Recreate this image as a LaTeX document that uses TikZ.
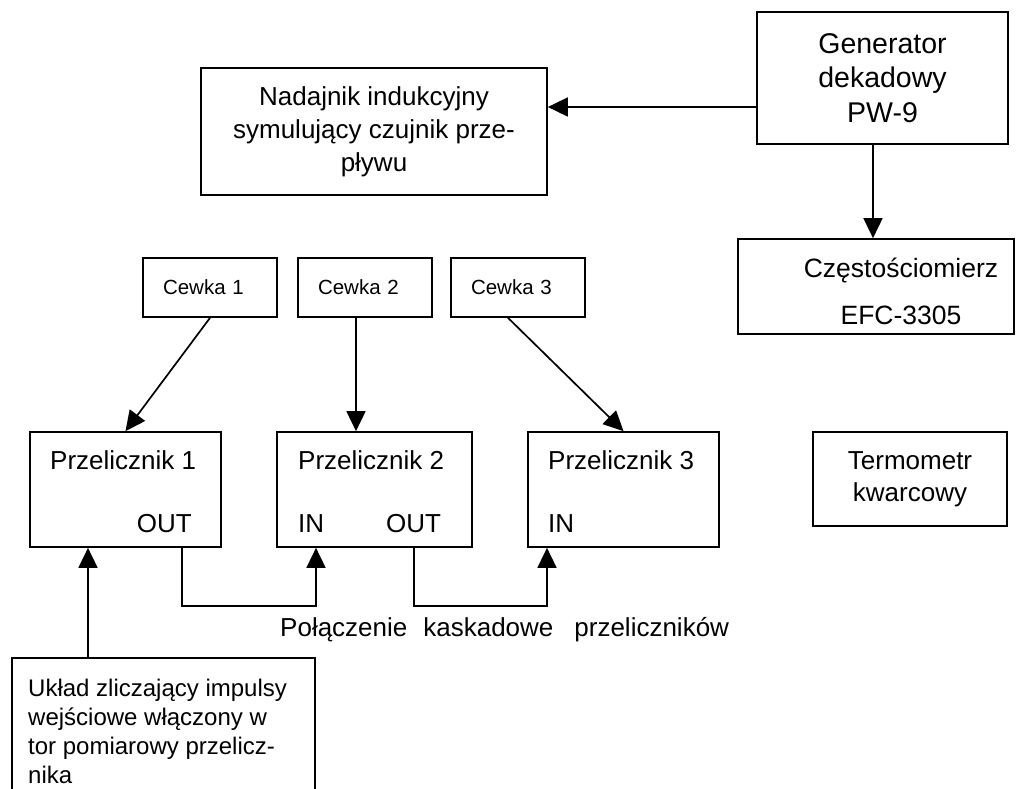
\documentclass[tikz,border=0pt]{standalone}
\usepackage{fontspec}
\setmainfont{Liberation Sans}
\usetikzlibrary{arrows.meta}

\tikzset{
  box/.style={draw,line width=1.7pt,inner sep=0pt,align=center},
  coil/.style={box,minimum width=134pt,minimum height=59pt,text width=94pt,
    align=left,inner xsep=20pt,font=\fontsize{20.5}{24}\selectfont},
  cnt/.style={box,minimum width=#1,minimum height=115pt},
  lbl/.style={inner sep=0pt},
  arr/.style={line width=1.7pt,-{Triangle[length=20pt,width=19pt]}},
}

\begin{document}
\begin{tikzpicture}[x=1pt,y=-1pt,font=\fontsize{26}{33}\selectfont]
  \clip (0,0) rectangle (1016,788);

  %% generator and its outputs
  \node[box,minimum width=251pt,minimum height=132pt,
    font=\fontsize{28.5}{34.5}\selectfont] (gen) at (882.5,78)
    {Generator\\dekadowy\\PW-9};
  \node[box,minimum width=346pt,minimum height=127pt] (nad) at (374,131.5)
    {Nadajnik indukcyjny\\symulujący czujnik prze-\\pływu};
  \node[box,minimum width=276pt,minimum height=95pt] (czest) at (876,286.5) {};
  \node[lbl,align=center,font=\fontsize{26.5}{47}\selectfont] (czlab) at (901,291.5)
    {Częstościomierz\\EFC-3305};

  \draw[arr] ([yshift=-29pt]gen.west) -- ([yshift=-29pt]gen.west -| nad.east);
  \draw[arr] ([xshift=-9.5pt]gen.south) -- ([xshift=-9.5pt]gen.south |- czest.north);

  %% coils
  \node[coil] (c1) at (210,287.5) {Cewka 1};
  \node[coil] (c2) at (365,287.5) {Cewka 2};
  \node[coil] (c3) at (518,287.5) {Cewka 3};

  %% counters
  \node[cnt=191pt] (p1) at (125.5,489.5) {};
  \node[cnt=195pt] (p2) at (374.5,489.5) {};
  \node[cnt=191pt] (p3) at (623.5,489.5) {};

  \node[lbl,anchor=base west] (p1t) at (50,469) {Przelicznik 1};
  \node[lbl,anchor=base east] (p1o) at (192,532) {OUT};
  \node[lbl,anchor=base west] (p2t) at (298,469) {Przelicznik 2};
  \node[lbl,anchor=base west] (p2i) at (298,532) {IN};
  \node[lbl,anchor=base west] (p2o) at (386,532) {OUT};
  \node[lbl,anchor=base west] (p3t) at (548,469) {Przelicznik 3};
  \node[lbl,anchor=base west] (p3i) at (548,532) {IN};

  \draw[arr] (c1.south) -- (p1.north);
  \draw[arr] ([xshift=-9pt]c2.south) -- ([xshift=-9pt]c2.south |- p2.north);
  \draw[arr] ([xshift=-10pt]c3.south) -- (p3.north);

  %% cascade
  \draw[arr] ([xshift=56.5pt]p1.south) -- ++(0,58) -| ([xshift=-58.5pt]p2.south);
  \draw[arr] ([xshift=39.5pt]p2.south) -- ++(0,58) -| ([xshift=-76.5pt]p3.south);
  \node[lbl,anchor=base west] (kask) at (280,636)
    {Połączenie\hspace{16pt}kaskadowe\hspace{21pt}przeliczników};

  %% thermometer
  \node[box,minimum width=194pt,minimum height=94pt,
    font=\fontsize{26}{32}\selectfont] (term) at (910,479) {Termometr\\kwarcowy};

  %% input counting circuit
  \node[box,minimum width=303pt,minimum height=164pt] (uk) at (163.5,740) {};
  \node[lbl,anchor=north west,align=left,font=\fontsize{24}{29}\selectfont] (uklab)
    at (28,679) {Układ zliczający impulsy\\wejściowe włączony w\\tor pomiarowy przelicz-\\nika};
  \draw[arr] ([xshift=-75.5pt]uk.north) -- ([xshift=-75.5pt]uk.north |- p1.south);
\end{tikzpicture}
\end{document}
